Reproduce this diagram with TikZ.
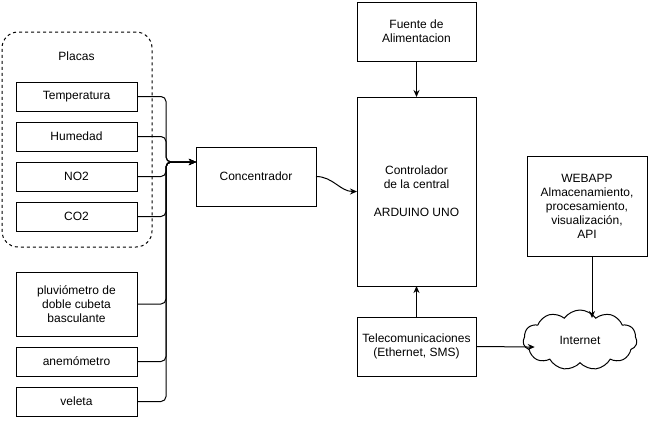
\documentclass[tikz,border=0pt]{standalone}
\usepackage{fontspec}
\setmainfont{Liberation Sans}
\usetikzlibrary{positioning, shapes.symbols, arrows.meta}

\begin{document}
\begin{tikzpicture}[x=1pt, y=-1pt, font=\fontsize{12}{14}\selectfont,
		box/.style={draw, line width=1pt, minimum width=120pt, minimum height=59pt, inner sep=0pt, outer sep=0pt, align=center},
		s/.style={draw, line width=1pt, minimum width=121pt, minimum height=29pt, inner sep=0pt, outer sep=0pt, align=center},
		grp/.style={draw, line width=1pt, dash pattern=on 3pt off 3pt, rounded corners=16pt, minimum width=150pt, minimum height=215pt},
		wire/.style={line width=1pt, rounded corners=5pt},
		>={Stealth[length=7pt, width=6pt]}]
		\useasboundingbox (0,0) rectangle (648,421);

		% placas
		\node[grp] (placas) at (77,139.5) {};
		\node[s] (temp) at (76.5,96.5) {Temperatura};
		\node[above=18pt of temp] (placas_label) {Placas};
		\node[s, below=11pt of temp] (hum) {Humedad};
		\node[s, below=11pt of hum] (no2) {NO2};
		\node[s, below=11pt of no2] (co2) {CO2};

		% otros sensores
		\node[s, minimum height=64pt, below=41pt of co2] (pluv) {pluviómetro de\\doble cubeta\\basculante};
		\node[s, below=11pt of pluv] (anem) {anemómetro};
		\node[s, below=11pt of anem] (vel) {veleta};

		\node[box] (conc) at (256,176.5) {Concentrador};

		\node[box, minimum width=119pt] (fuente) at (416.5,31.5) {Fuente de\\Alimentacion};
		\node[box, minimum width=119pt, minimum height=189pt, below=36pt of fuente] (ctrl) {Controlador\\de la central\\[14pt]ARDUINO UNO};
		\node[box, minimum width=119pt, below=31pt of ctrl] (tele) {Telecomunicaciones\\(Ethernet, SMS)};

		\node[box, minimum height=100pt] (web) at (587,206) {WEBAPP\\Almacenamiento,\\procesamiento,\\visualización,\\API};
		\node[cloud, draw, line width=1pt, cloud puffs=11, cloud puff arc=110, aspect=1.9, minimum width=114pt, minimum height=60pt, inner sep=0pt] (inet) at (580,340) {Internet};

		\coordinate (bus) at (166,162);
		\foreach \n in {temp, hum, no2, co2, pluv, anem, vel}
			\draw[wire, ->] (\n.east) -| (bus) -- (conc.west |- bus);

		\draw[wire, ->] (conc.east) to[out=0, in=180] (ctrl.west);
		\draw[wire, ->] (fuente) -- (ctrl);
		\draw[wire, ->] (tele) -- (ctrl);
		\draw[wire, ->] (tele.east) to[out=0, in=180] ([xshift=12pt, yshift=-7pt]inet.west);
		\draw[wire, ->] (web.south -| 592,0) -- (592,318);
	\end{tikzpicture}
\end{document}
